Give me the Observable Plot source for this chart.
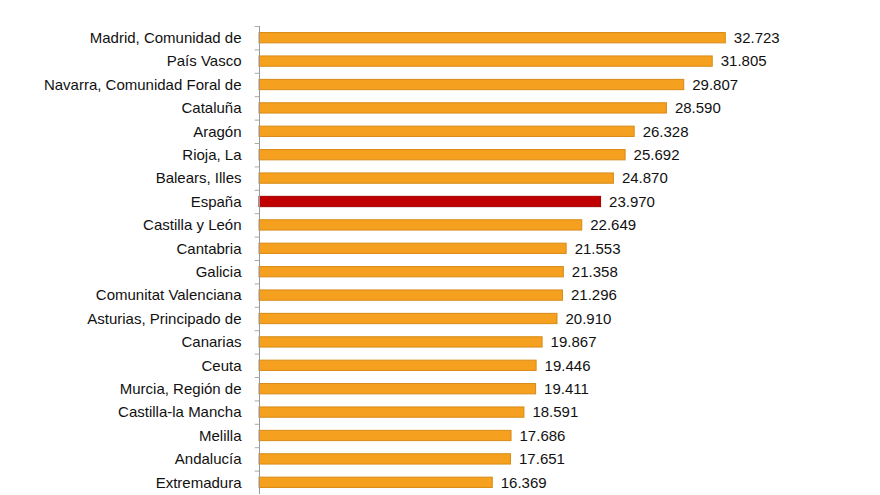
<!DOCTYPE html>
<html>
<head>
<meta charset="utf-8">
<script src="https://cdn.jsdelivr.net/npm/d3@7"></script>
<script src="https://cdn.jsdelivr.net/npm/@observablehq/plot@0.6"></script>
<style>
  html, body { margin: 0; padding: 0; background: #fff; }
  #chart { width: 880px; height: 495px; overflow: hidden; }
</style>
</head>
<body>
<div id="chart"></div>
<script>
const regions = [
  "Madrid, Comunidad de", "País Vasco", "Navarra, Comunidad Foral de", "Cataluña",
  "Aragón", "Rioja, La", "Balears, Illes", "España", "Castilla y León", "Cantabria",
  "Galicia", "Comunitat Valenciana", "Asturias, Principado de", "Canarias", "Ceuta",
  "Murcia, Región de", "Castilla-la Mancha", "Melilla", "Andalucía", "Extremadura"
];
const values = [
  32723, 31805, 29807, 28590, 26328, 25692, 24870, 23970, 22649, 21553,
  21358, 21296, 20910, 19867, 19446, 19411, 18591, 17686, 17651, 16369
];
const highlight = "España";

const data = regions.map((r, i) => ({region: r, value: values[i]}));
const fmt = d3.formatLocale({decimal: ",", thousands: ".", grouping: [3], currency: ["", " €"]}).format(",d");

const step = (494 - 26) / regions.length;

const chart = Plot.plot({
  width: 880,
  height: 495,
  marginLeft: 259,
  marginRight: 51,
  marginTop: 26,
  marginBottom: 1,
  style: {fontFamily: "Liberation Sans, Arial, sans-serif", fontSize: "15px", background: "#fff"},
  x: {domain: [0, 40000], axis: null},
  y: {domain: regions, paddingInner: 0.56, paddingOuter: 0.28, round: false, axis: null},
  marks: [
    Plot.barX(data, {
      y: "region", x: "value",
      fill: d => d.region === highlight ? "#C00000" : "#F5A01E",
      stroke: d => d.region === highlight ? "#A00000" : "#D88A16",
      strokeWidth: 1
    }),
    Plot.ruleY(regions, {y: d => d, x1: -300, x2: 0, dy: -step / 2, stroke: "#aaa", strokeWidth: 1}),
    Plot.ruleX([0], {stroke: "#999", strokeWidth: 1}),
    Plot.text(data, {
      y: "region", x: 0, text: "region", textAnchor: "end", dx: -18,
      fill: "#111", fontSize: 15
    }),
    Plot.text(data, {
      y: "region", x: "value", text: d => fmt(d.value), textAnchor: "start", dx: 8,
      fill: "#111", fontSize: 15
    })
  ]
});
document.getElementById("chart").appendChild(chart);
</script>
</body>
</html>
